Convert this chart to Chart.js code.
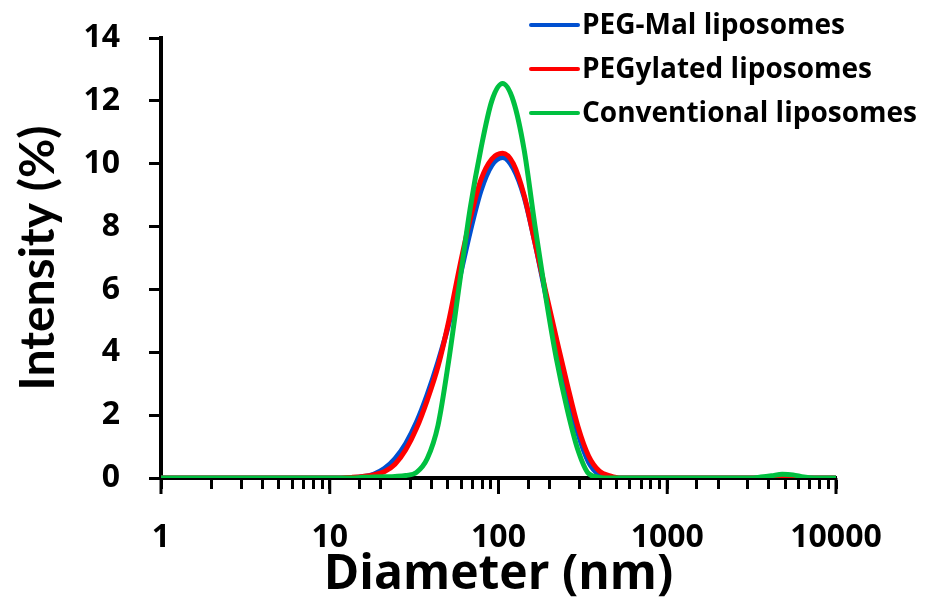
<!DOCTYPE html>
<html>
<head>
<meta charset="utf-8">
<script src="https://cdn.jsdelivr.net/npm/chart.js"></script>
<style>
  html, body { margin: 0; padding: 0; background: #fff; }
  #wrap { width: 929px; height: 614px; }
</style>
</head>
<body>
<div id="wrap"><canvas id="myChart" width="929" height="614"></canvas></div>
<script>
// diameters (nm) of the size bins
const diameters = [0.9649, 1.117, 1.294, 1.499, 1.736, 2.010, 2.328, 2.696, 3.122, 3.615,
  4.187, 4.849, 5.615, 6.503, 7.531, 8.721, 10.10, 11.70, 13.54, 15.69,
  18.17, 21.04, 24.36, 28.21, 32.67, 37.84, 43.82, 50.75, 58.77, 68.06,
  78.82, 91.28, 105.7, 122.4, 141.8, 164.2, 190.1, 220.2, 255.0, 295.3,
  342.0, 396.1, 458.7, 531.2, 615.1, 712.4, 825.0, 955.4, 1106, 1281,
  1484, 1718, 1990, 2305, 2669, 3091, 3580, 4145, 4801, 5560,
  6439, 7456, 8635, 10000];

// intensity (%) for each series
const pegMal = [0, 0, 0, 0, 0, 0, 0, 0, 0, 0,
  0, 0, 0, 0, 0, 0, 0, 0, 0.01, 0.04,
  0.12, 0.3, 0.62, 1.1, 1.78, 2.66, 3.7, 4.9, 6.35, 7.85,
  9.15, 9.95, 10.2, 9.85, 8.95, 7.5, 5.85, 4.25, 2.75, 1.42,
  0.5, 0.1, 0, 0, 0, 0, 0, 0, 0, 0,
  0, 0, 0, 0, 0, 0, 0, 0, 0, 0,
  0, 0, 0, 0];

const pegylated = [0, 0, 0, 0, 0, 0, 0, 0, 0, 0,
  0, 0, 0, 0, 0, 0, 0, 0, 0.02, 0.05,
  0.1, 0.2, 0.44, 0.9, 1.58, 2.48, 3.55, 5.0, 6.7, 8.25,
  9.5, 10.15, 10.33, 10.0, 9.0, 7.5, 5.95, 4.45, 3.0, 1.65,
  0.7, 0.22, 0.07, 0, 0, 0, 0, 0, 0, 0,
  0, 0, 0, 0, 0, 0, 0, 0, 0.03, 0.02,
  0, 0, 0, 0];

const conventional = [0, 0, 0, 0, 0, 0, 0, 0, 0, 0,
  0, 0, 0, 0, 0, 0, 0, 0, 0, 0.02,
  0.03, 0.04, 0.05, 0.08, 0.18, 0.62, 1.68, 3.75, 6.2, 8.6,
  10.5, 12.0, 12.55, 12.0, 10.45, 8.05, 5.8, 3.8, 2.2, 0.9,
  0.14, 0.02, 0, 0, 0, 0, 0, 0, 0, 0,
  0, 0, 0, 0, 0, 0, 0.03, 0.07, 0.12, 0.1,
  0.03, 0, 0, 0];

const seriesNames = ['PEG-Mal liposomes', 'PEGylated liposomes', 'Conventional liposomes'];
const seriesColors = ['#0050d0', '#ff0000', '#00c040'];
const decadeLabels = [1, 10, 100, 1000, 10000];

const FONT = '"Open Sans", Lato, sans-serif';
const FONT_Y = 'Lato, "Open Sans", sans-serif';

function toPoints(values) {
  return diameters.map((d, i) => ({ x: d, y: values[i] }));
}

// legend drawn in the top right corner, like the original
const sideLegend = {
  id: 'sideLegend',
  afterDraw(chart) {
    const ctx = chart.ctx;
    ctx.save();
    ctx.font = 'bold 28px ' + FONT;
    ctx.textBaseline = 'middle';
    ctx.fillStyle = '#000';
    chart.data.datasets.forEach((ds, i) => {
      const y = 25 + i * 44;
      ctx.strokeStyle = ds.borderColor;
      ctx.lineWidth = 4;
      ctx.lineCap = 'round';
      ctx.beginPath();
      ctx.moveTo(531, y);
      ctx.lineTo(578, y);
      ctx.stroke();
      ctx.fillText(ds.label, 582, y + 1);
    });
    ctx.restore();
  }
};

// longer tick marks at the decades of the log axis
const majorTicks = {
  id: 'majorTicks',
  afterDraw(chart) {
    const xs = chart.scales.x;
    const ctx = chart.ctx;
    ctx.save();
    ctx.strokeStyle = '#000';
    ctx.lineWidth = 3;
    decadeLabels.forEach(v => {
      const px = xs.getPixelForValue(v);
      ctx.beginPath();
      ctx.moveTo(px, xs.top);
      ctx.lineTo(px, xs.top + 16);
      ctx.stroke();
    });
    ctx.restore();
  }
};

const ctx = document.getElementById('myChart');

new Chart(ctx, {
  type: 'line',
  data: {
    datasets: [
      // order: green drawn on top, then red, blue underneath
      { label: seriesNames[0], data: toPoints(pegMal), borderColor: seriesColors[0], order: 3 },
      { label: seriesNames[1], data: toPoints(pegylated), borderColor: seriesColors[1], order: 2 },
      { label: seriesNames[2], data: toPoints(conventional), borderColor: seriesColors[2], order: 1 }
    ]
  },
  options: {
    responsive: false,
    animation: false,
    elements: {
      line: { borderWidth: 5, cubicInterpolationMode: 'monotone' },
      point: { radius: 0 }
    },
    layout: { padding: { top: 38, right: 93, left: 0, bottom: 0 } },
    plugins: {
      legend: { display: false },
      tooltip: { enabled: false }
    },
    scales: {
      x: {
        type: 'logarithmic',
        min: 1,
        max: 10000,
        border: { display: true, color: '#000', width: 4 },
        grid: { drawOnChartArea: false, drawTicks: true, tickLength: 11, tickWidth: 3, tickColor: '#000' },
        ticks: {
          autoSkip: false,
          maxRotation: 0,
          padding: 30,
          color: '#000',
          font: { family: FONT, size: 32, weight: 'bold' },
          callback: (v) => decadeLabels.includes(v) ? String(v) : ''
        },
        title: {
          display: true,
          text: 'Diameter (nm)',
          color: '#000',
          font: { family: FONT, size: 48, weight: 'bold', lineHeight: 1.2 },
          padding: { top: 0, bottom: 10 }
        },
        afterFit: (s) => { s.height = 136; }
      },
      y: {
        min: 0,
        max: 14,
        border: { display: true, color: '#000', width: 4 },
        grid: { drawOnChartArea: false, drawTicks: true, tickLength: 12, tickWidth: 3, tickColor: '#000' },
        ticks: {
          stepSize: 2,
          padding: 29,
          color: '#000',
          font: { family: FONT, size: 32, weight: 'bold' }
        },
        title: {
          display: true,
          text: 'Intensity (%)',
          color: '#000',
          font: { family: FONT_Y, size: 48, weight: 'bold', lineHeight: 1.2 },
          padding: { top: 10, bottom: 0 }
        },
        afterFit: (s) => {
          s.width = 161;
          s.paddingTop = 0;
          s.paddingBottom = 0;
        }
      }
    }
  },
  plugins: [sideLegend, majorTicks]
});
</script>
</body>
</html>
